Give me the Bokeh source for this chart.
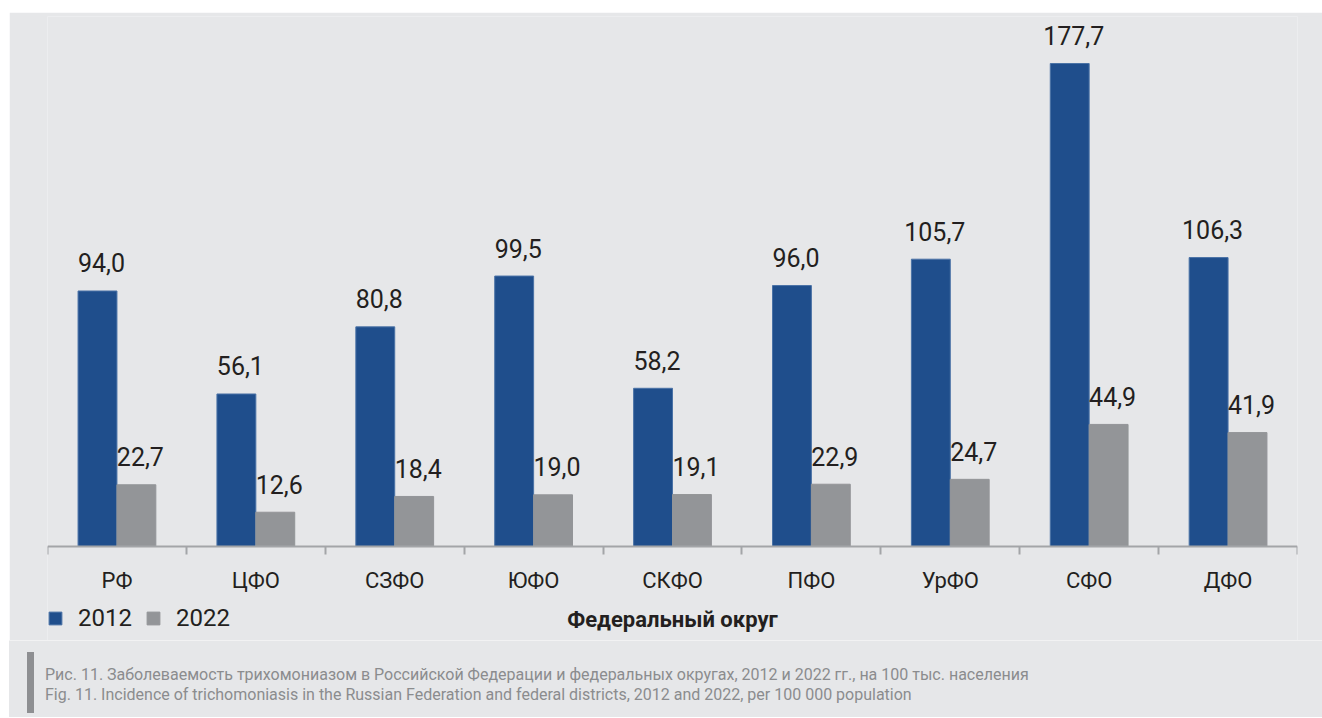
from bokeh.plotting import figure
from bokeh.models import Range1d, FixedTicker, Legend, LegendItem, Div, ColumnDataSource
from bokeh.layouts import column
from bokeh.embed import file_html
from bokeh.resources import INLINE
from bokeh.core.properties import value

categories = ["РФ", "ЦФО", "СЗФО", "ЮФО", "СКФО", "ПФО", "УрФО", "СФО", "ДФО"]
values_2012 = [94.0, 56.1, 80.8, 99.5, 58.2, 96.0, 105.7, 177.7, 106.3]
values_2022 = [22.7, 12.6, 18.4, 19.0, 19.1, 22.9, 24.7, 44.9, 41.9]
years = ["2012", "2022"]
x_title = "Федеральный округ"
caption_ru = ("Рис. 11. Заболеваемость трихомониазом в Российской Федерации и федеральных округах, "
              "2012 и 2022 гг., на 100 тыс. населения")
caption_en = ("Fig. 11. Incidence of trichomoniasis in the Russian Federation and federal districts, "
              "2012 and 2022, per 100 000 population")

BG = "#e6e7e9"
BLUE = "#1f4e8c"
GREY = "#939598"
TXT = "#231f20"
FONT = "Roboto"

n = len(categories)
xc = [i + 0.5 for i in range(n)]
fmt = lambda v: f"{v:.1f}".replace(".", ",")
src = ColumnDataSource(dict(
    x12=[x - 0.14 for x in xc], x22=[x + 0.14 for x in xc],
    v12=values_2012, v22=values_2022,
    l12=[fmt(v) for v in values_2012], l22=[fmt(v) for v in values_2022],
))

p = figure(width=1313, height=628, x_range=Range1d(0, n), y_range=Range1d(-34.6, 195),
           output_backend="svg", toolbar_location=None, y_axis_location=None,
           min_border_left=38, min_border_right=25, min_border_top=4, min_border_bottom=0,
           margin=(12, 0, 0, 9))
p.background_fill_color = BG
p.border_fill_color = BG
p.outline_line_color = None
p.xgrid.visible = False
p.ygrid.visible = False

r12 = p.vbar(x="x12", top="v12", width=0.28, source=src, fill_color=BLUE,
             line_color="#4a72a6", line_width=1)
r22 = p.vbar(x="x22", top="v22", width=0.28, source=src, fill_color=GREY,
             line_color=GREY, line_width=1)
for xk, vk, lk in (("x12", "v12", "l12"), ("x22", "v22", "l22")):
    p.text(x=xk, y=vk, text=lk, source=src, text_align="center", text_baseline="alphabetic",
           x_offset=4, y_offset=-28, text_font=value(FONT), text_font_size="25px",
           text_color=TXT)

ax = p.xaxis[0]
ax.fixed_location = 0
ax.ticker = FixedTicker(ticks=xc, minor_ticks=list(range(n + 1)))
ax.major_label_overrides = {x: c for x, c in zip(xc, categories)}
ax.major_tick_line_color = None
ax.major_tick_out = 0
ax.major_tick_in = 0
ax.minor_tick_line_color = "#a3a5a8"
ax.minor_tick_line_width = 2
ax.minor_tick_out = 8
ax.minor_tick_in = 0
ax.axis_line_color = "#a3a5a8"
ax.axis_line_width = 2
ax.major_label_standoff = 14
ax.major_label_text_font = FONT
ax.major_label_text_font_size = "22px"
ax.major_label_text_color = TXT
ax.axis_label = x_title
ax.axis_label_text_font = FONT
ax.axis_label_text_font_style = "bold"
ax.axis_label_text_font_size = "22px"
ax.axis_label_text_color = TXT
ax.axis_label_standoff = 10

legend = Legend(items=[LegendItem(label=years[0], renderers=[r12]),
                       LegendItem(label=years[1], renderers=[r22])],
                orientation="horizontal", location=(0, 8),
                background_fill_alpha=0, border_line_color=None, padding=0, margin=0,
                spacing=13, label_standoff=15, glyph_width=16, glyph_height=16,
                label_text_font=FONT, label_text_font_size="24px", label_text_color=TXT)
p.add_layout(legend)

html = (f'<div style="position:relative;width:1313px;height:77px;background:{BG};'
        f'border-top:1px solid #f2f2f3;'
        f"font-family:'{FONT}',sans-serif;font-size:16px;line-height:20px;color:#8b8c8e;\">"
        f'<div style="position:absolute;left:18px;top:11px;width:7px;height:61px;background:#8e8f92;"></div>'
        f'<div style="position:absolute;left:36px;top:24px;white-space:nowrap;">{caption_ru}<br>{caption_en}</div>'
        f'</div>')
cap = Div(text=html, width=1313, height=78, margin=(0, 0, 0, 9))

layout = column(p, cap, spacing=0)
open("out.html", "w").write(file_html(layout, INLINE))
